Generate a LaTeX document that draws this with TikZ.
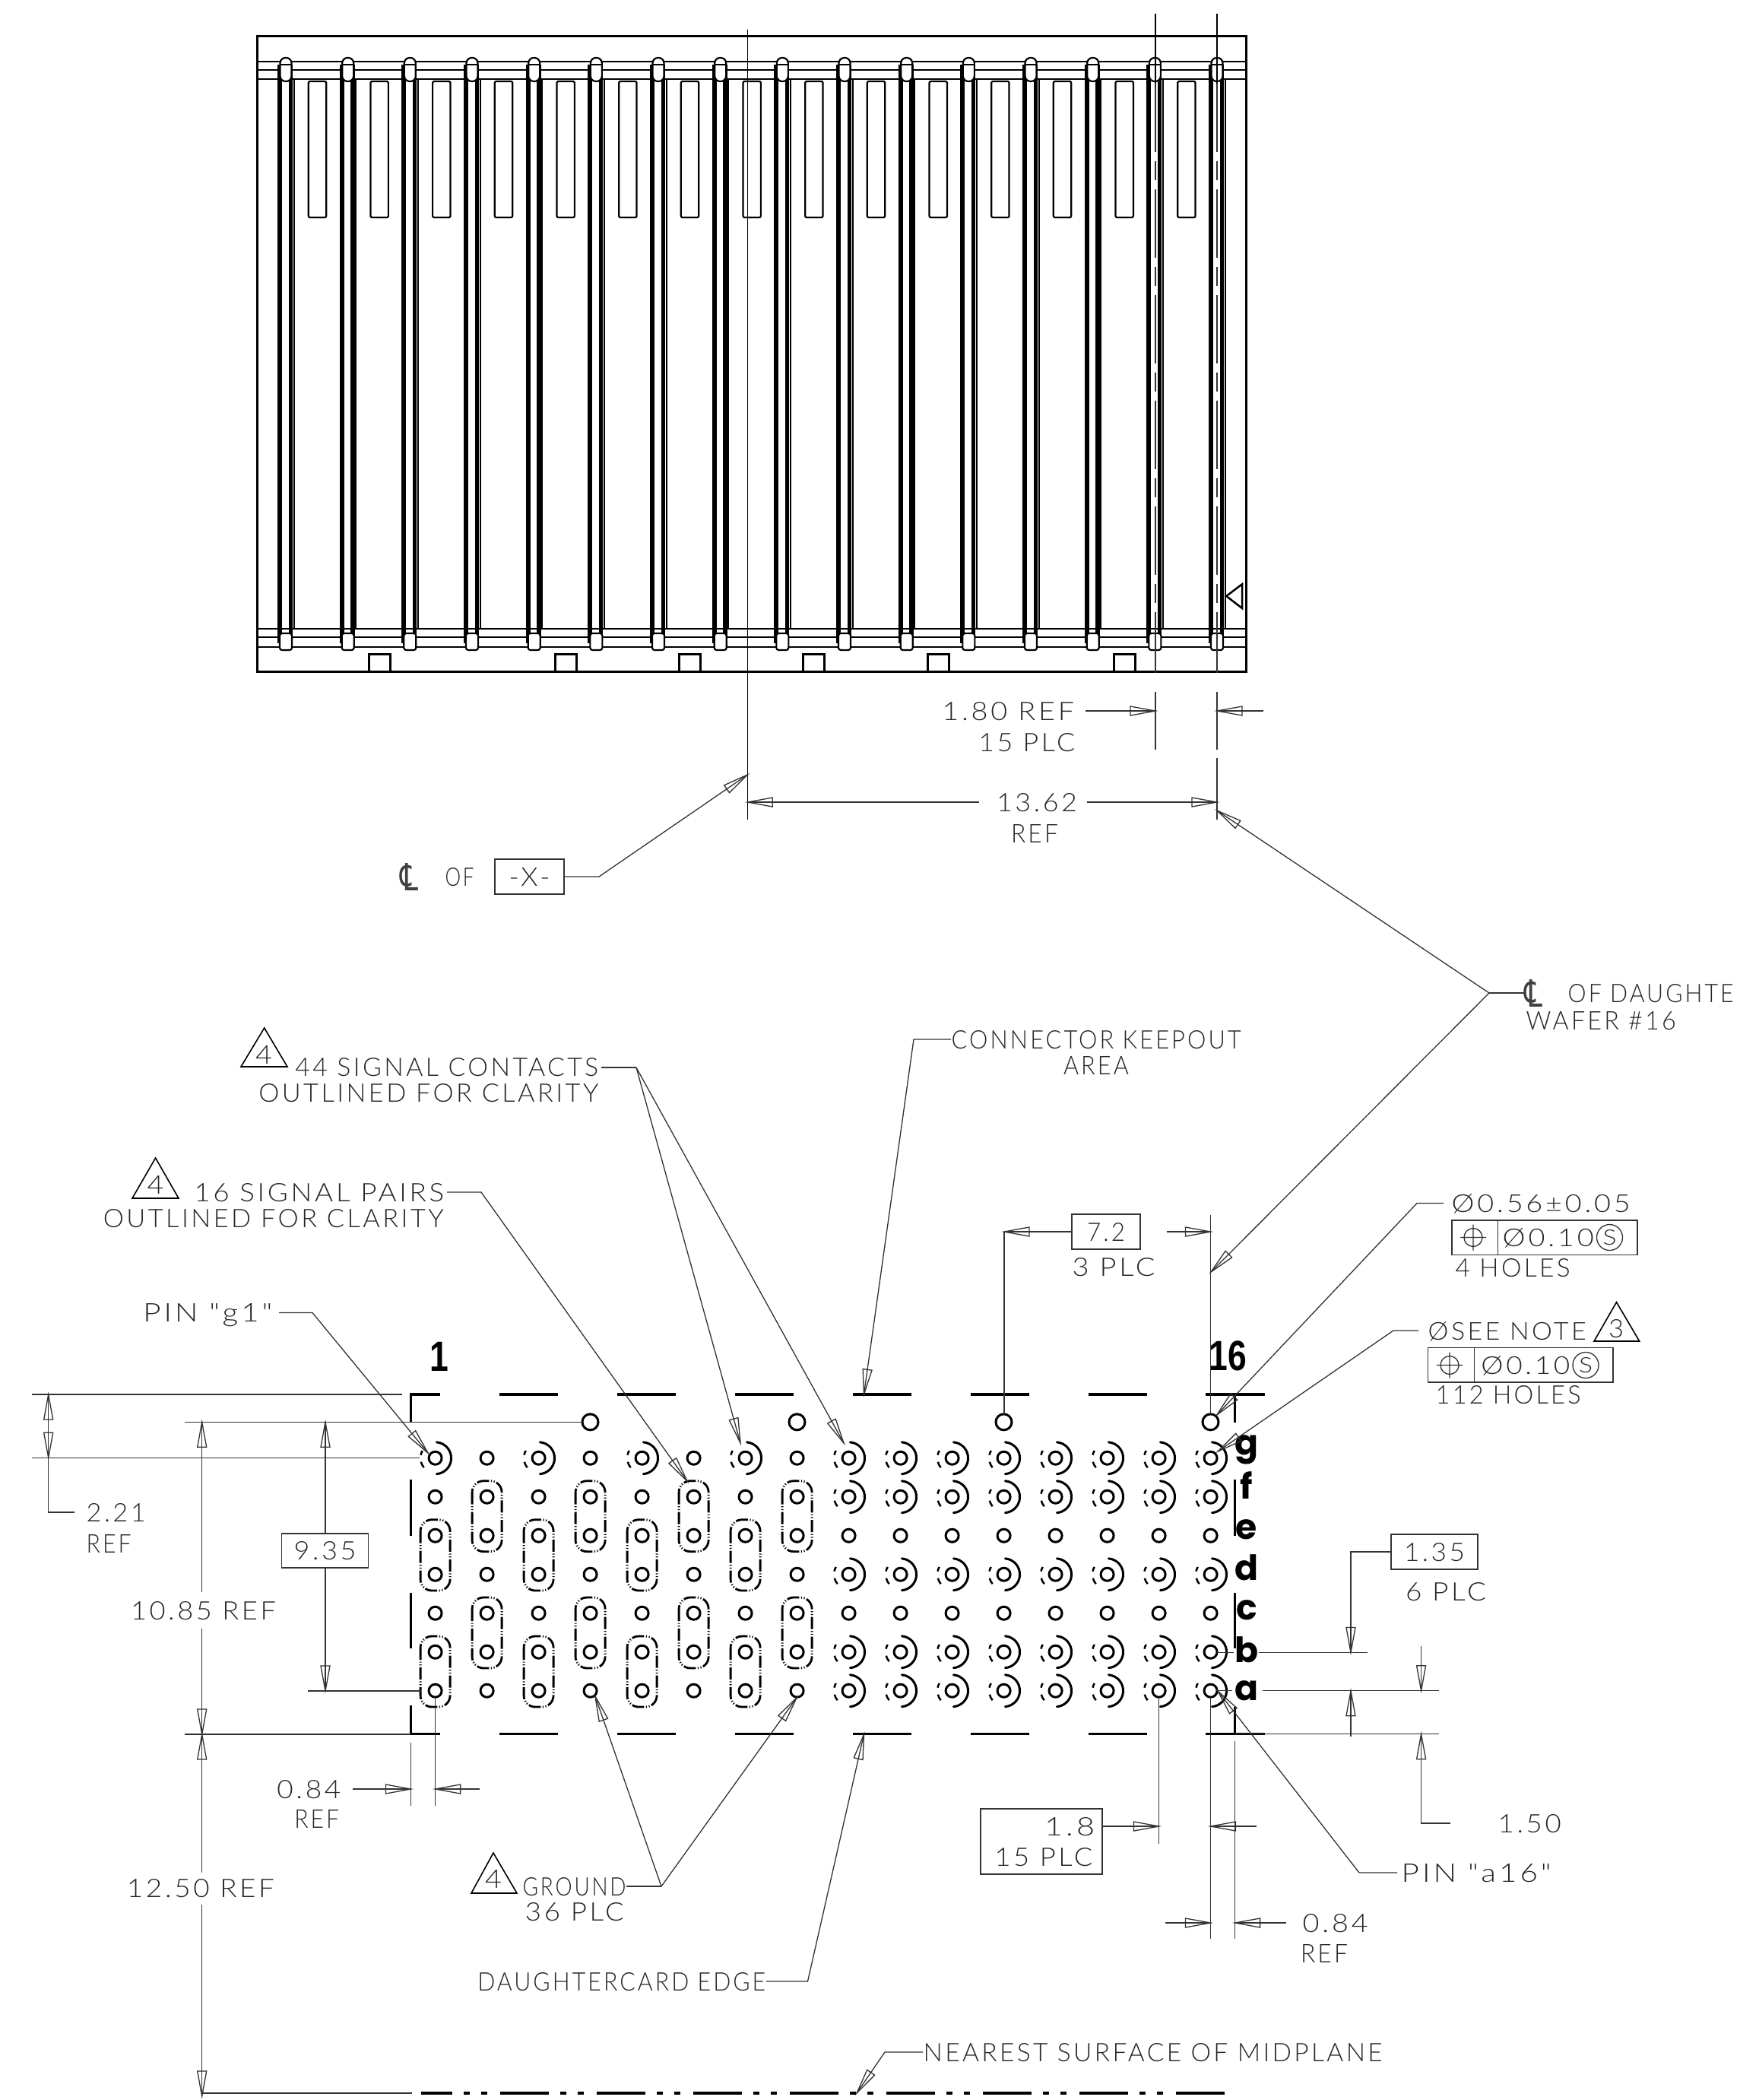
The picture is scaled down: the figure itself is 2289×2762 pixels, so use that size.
\documentclass[tikz,border=0pt]{standalone}
\usepackage{fontspec}
\usepackage{graphicx}
\usetikzlibrary{calc}
\newfontfamily\cad[LetterSpace=10]{Lato Light}
\newfontfamily\sym{DejaVu Sans}
\newfontfamily\rowf{Poppins}
\newfontfamily\numf[FakeStretch=.8]{Liberation Sans}
\newlength\wu \setlength\wu{.01cm}
\newcommand{\W}[2]{\resizebox{#1\wu}{.24cm}{#2}}
\newcommand{\CL}{\resizebox{24\wu}{36\wu}{\color{black!75}\sym ℄}}
\tikzset{
  dim/.style={line width=.013cm,draw=black!80},
  part/.style={line width=.022cm,draw=black},
  keep/.style={line width=.035cm,draw=black},
  holeline/.style={line width=.03cm,draw=black},
  ovalline/.style={line width=.028cm,draw=black,rounded corners=.15cm,dash pattern=on .16cm off .025cm on .012cm off .025cm on .012cm off .025cm},
  cl/.style={dim,dash pattern=on .9cm off .12cm on .25cm off .12cm},
  t/.style={inner sep=0pt,text height=.24cm,text depth=0pt,text=black!85,font=\cad\fontsize{9.5}{10}\selectfont},
  fbox/.style={t,draw=black!80,line width=.013cm,anchor=center},
  sbox/.style={t,text height=.2cm,draw=black!80,line width=.013cm,circle,minimum size=.34cm},
  rowl/.style={inner sep=0pt,font=\rowf\bfseries\fontsize{13}{14}\selectfont},
  coln/.style={inner sep=0pt,font=\numf\bfseries\fontsize{15.8}{16}\selectfont},
}
\newcommand{\ah}[2]{\draw[dim] (#1) -- ($(#1)!.33cm!(#2)!.06cm!90:(#2)$) -- ($(#1)!.33cm!(#2)!.06cm!-90:(#2)$) -- cycle;}
\newcommand{\dl}[2]{\draw[dim] (#1) -- (#2); \ah{#1}{#2}}
\newcommand{\posit}[1]{\draw[dim] (#1) circle[radius=.12cm] ($(#1)+(-17,0)$) -- ($(#1)+(17,0)$) ($(#1)+(0,-17)$) -- ($(#1)+(0,17)$);}
\newcommand{\contact}[2]{%
  \draw[holeline,line cap=round] (#1+1.8,#2-20.9) arc[start angle=85,end angle=-85,radius=.21cm];
  \draw[line width=.025cm] (#1-16.9,#2-9.75) arc[start angle=150,end angle=168,radius=.195cm];
  \draw[line width=.025cm] (#1-18.8,#2+5) arc[start angle=195,end angle=220,radius=.195cm];}
\begin{document}
\begin{tikzpicture}[x=.01cm,y=-.01cm]
\useasboundingbox (0,0) rectangle (2289,2762);
\fill[white] (0,0) rectangle (2289,2762);
% ---------- top view
\draw[line width=.03cm] (338,47) rectangle (1639,883);
\foreach \yy in {81,92,104,827,838,851}{\draw[part] (338,\yy) -- (1639,\yy);}
\foreach \k in {0,...,14}{
  \pgfmathsetmacro\sx{417.5+81.67*\k}
  \draw[part,rounded corners=.02cm] (\sx-11.7,107) rectangle (\sx+11.7,286);
}
\foreach \k in {1,4,6,8,10,13}{
  \pgfmathsetmacro\sx{417.5+81.67*\k}
  \draw[line width=.03cm] (\sx-14,883) -- (\sx-14,860) -- (\sx+14,860) -- (\sx+14,883);
}
\foreach \k in {0,...,15}{
  \pgfmathsetmacro\cx{376+81.67*\k}
  \fill (\cx-11,85) rectangle (\cx-5,846);
  \fill (\cx+3.5,85) rectangle (\cx+9,846);
  \fill (\cx+9.5,104) rectangle (\cx+11.5,827);
  \draw[part,fill=white,rounded corners=.07cm] (\cx-7.5,76) rectangle (\cx+7.5,107);
  \draw[part] (\cx-7.5,85) -- (\cx+7.5,85);
  \draw[part,fill=white,rounded corners=.03cm] (\cx-8,833) rectangle (\cx+8,855);
}
\draw[line width=.025cm] (1613.3,784) -- (1634,768.3) -- (1634,800) -- cycle;
% centre lines
\coordinate (clx) at (983.3,1019);
\coordinate (cla) at (1520,935);
\coordinate (clb) at (1601,935);
\draw[line width=.016cm] (1520,18) -- (1520,110);
\draw[line width=.016cm] (1601,18) -- (1601,110);
\draw[cl] (1520,110) -- (1520,885);
\draw[cl] (1601,110) -- (1601,885);
\draw[line width=.016cm] (983.3,39) -- (983.3,1078);
\draw[dim] (1520,910) -- (1520,986);
\draw[dim] (1601,910) -- (1601,986);
\draw[dim] (1601,997) -- (1601,1078);
% 1.80 REF
\node[t,anchor=east] (t180) at (1414,935) {\W{174}{1.80 REF}};
\node[t,anchor=east] (t15plc) at (1415,976) {\W{127}{15 PLC}};
\coordinate (a180r) at (1662,935);
\draw[dim] (1428,935) -- (cla); \ah{cla}{1428,935}
\dl{clb}{a180r}
% 13.62
\node[t] (t1362) at (1364,1055) {\W{106}{13.62}};
\node[t] (t1362r) at (1361,1096) {\W{62}{REF}};
\coordinate (d1362a) at (983.3,1055);
\coordinate (d1362b) at (1601,1055);
\dl{d1362a}{1288,1055}
\dl{d1362b}{1430,1055}
% CL of -X-
\node[inner sep=0pt] (tclx) at (538,1153) {\CL};
\node[t,anchor=west] (tof) at (585,1153) {\W{38}{OF}};
\node[fbox,minimum width=.91cm,minimum height=.46cm] (bx) at (696.5,1153) {\W{54}{-X-}};
\coordinate (bxe) at (788,1153);
\draw[dim] (bx.east) -- (bxe) -- (clx); \ah{clx}{bxe}
% CL of daughter
\node[inner sep=0pt,anchor=west] (tcld) at (2005,1306) {\CL};
\node[t,anchor=west] (tofd) at (2062,1306) {\W{218}{OF DAUGHTE}};
\node[t,anchor=west] (twaf) at (2007,1342) {\W{197}{WAFER \#16}};
\coordinate (hub) at (1959,1306);
\coordinate (dtipa) at (1601,1066);
\coordinate (dtipb) at (1593,1673);
\draw[dim] (tcld.west) -- (hub);
\dl{dtipa}{hub}
\dl{dtipb}{hub}
% ---------- array outline
\foreach \k in {0,...,6}{
  \pgfmathsetmacro\xa{657+155*\k}
  \pgfmathsetmacro\xb{734+155*\k}
  \draw[keep] (\xa,1834) -- (\xb,1834);
  \draw[keep] (\xa,2280.7) -- (\xb,2280.7);
}
\draw[keep] (579,1834) -- (540.6,1834) -- (540.6,1871);
\draw[keep] (1586,1834) -- (1624.6,1834) -- (1624.6,1871);
\draw[keep] (579,2280.7) -- (540.6,2280.7) -- (540.6,2243);
\draw[keep] (1586,2280.7) -- (1624.6,2280.7) -- (1624.6,2245);
\foreach \xx in {540.6,1624.6}{
  \draw[keep] (\xx,1946) -- (\xx,2020);
  \draw[keep] (\xx,2095) -- (\xx,2168);
}
% holes
\foreach \c in {0,...,15}{
  \foreach \r in {0,...,6}{
    \draw[holeline] (572.6+68*\c,1917.7+51*\r) circle[radius=.085cm];
  }
}
\foreach \c in {3,7,11,15}{
  \draw[holeline] (572.5+68*\c,1870.3) circle[radius=.105cm];
}
\foreach \c in {0,2,4,6}{
  \pgfmathsetmacro\hx{572.6+68*\c}
  \contact{\hx}{1917.7}
  \draw[ovalline] (\hx-19.5,2019.7-21) rectangle (\hx+19.5,2071+21);
  \draw[ovalline] (\hx-19.5,2173-21) rectangle (\hx+19.5,2224+21);
}
\foreach \c in {1,3,5,7}{
  \pgfmathsetmacro\hx{572.6+68*\c}
  \draw[ovalline] (\hx-19.5,1968.7-21) rectangle (\hx+19.5,2019.7+21);
  \draw[ovalline] (\hx-19.5,2122-21) rectangle (\hx+19.5,2173+21);
}
\foreach \c in {8,...,15}{
  \foreach \r in {0,1,3,5,6}{
    \pgfmathsetmacro\hx{572.6+68*\c}
    \pgfmathsetmacro\hy{1917.7+51*\r}
    \contact{\hx}{\hy}
  }
}
% row and column labels
\node[rowl] (rg) at (1640,1907) {g};
\node[rowl] (rf) at (1640,1954) {f};
\node[rowl] (re) at (1640,2012) {e};
\node[rowl] (rd) at (1640,2062) {d};
\node[rowl] (rc) at (1640,2118) {c};
\node[rowl] (rb) at (1640,2170) {b};
\node[rowl] (ra) at (1640,2224) {a};
\node[coln] (c1) at (578,1784) {1};
\node[coln] (c16) at (1615,1783) {16};
% ---------- left dims
\draw[dim] (41.5,1834) -- (529,1834);
\draw[dim] (41.5,1917.3) -- (552,1917.3);
\draw[dim] (243,1870.3) -- (766,1870.3);
\draw[dim] (405,2224) -- (554,2224);
\draw[dim] (243,2281) -- (540,2281);
\coordinate (d221a) at (63.7,1834);
\coordinate (d221b) at (63.7,1917.3);
\coordinate (d221c) at (63.7,1989);
\node[t,anchor=west] (t221) at (113,1989) {\W{78}{2.21}};
\node[t,anchor=west] (t221r) at (113,2030) {\W{59}{REF}};
\draw[dim] (d221a) -- (d221c) -- (97.7,1989);
\ah{d221a}{d221b} \ah{d221b}{d221a}
\node[t] (t1085) at (267.5,2118) {\W{191}{10.85 REF}};
\node[t] (t1250) at (264,2483) {\W{194}{12.50 REF}};
\coordinate (d10a) at (265.7,1870.3);
\coordinate (d10b) at (265.7,2281);
\coordinate (d10c) at (265.7,2757);
\dl{d10a}{265.7,2094}
\dl{d10b}{265.7,2142}
\dl{d10b}{265.7,2463}
\dl{d10c}{265.7,2505}
\node[fbox,minimum width=1.14cm,minimum height=.45cm] (b935) at (427.6,2039.5) {\W{82}{9.35}};
\coordinate (d9a) at (428,1870.3);
\coordinate (d9b) at (428,2224);
\dl{d9a}{b935.north -| d9a}
\dl{d9b}{b935.south -| d9b}
% PIN g1
\node[t,anchor=east] (tg1) at (359,1726.5) {\W{170}{PIN "g1"}};
\coordinate (tipg1) at (563,1911);
\coordinate (elbg1) at (411,1726.5);
\draw[dim] (367,1726.5) -- (elbg1) -- (tipg1); \ah{tipg1}{elbg1}
% 44 signal contacts
\draw[line width=.016cm] (317,1403) -- (347.7,1352) -- (378,1403) -- cycle;
\node[t] (t4a) at (347,1387) {\W{22}{4}};
\node[t,anchor=east] (t44) at (788,1403) {\W{399}{44 SIGNAL CONTACTS}};
\node[t,anchor=east] (tol1) at (788,1437.7) {\W{447}{OUTLINED FOR CLARITY}};
\coordinate (hub44) at (837,1404);
\coordinate (tip44a) at (974,1898);
\coordinate (tip44b) at (1110,1898);
\draw[dim] (791,1404) -- (hub44);
\dl{tip44a}{hub44}
\dl{tip44b}{hub44}
% 16 signal pairs
\draw[line width=.016cm] (174,1576) -- (204.6,1523) -- (235,1576) -- cycle;
\node[t] (t4b) at (204.6,1558) {\W{22}{4}};
\node[t,anchor=east] (t16) at (585,1568) {\W{329}{16 SIGNAL PAIRS}};
\node[t,anchor=east] (tol2) at (584.5,1602) {\W{448}{OUTLINED FOR CLARITY}};
\coordinate (elb16) at (633,1568);
\coordinate (tip16) at (904,1948);
\draw[dim] (588,1568) -- (elb16) -- (tip16); \ah{tip16}{elb16}
% connector keepout
\node[t,anchor=west] (tck) at (1251,1367) {\W{381}{CONNECTOR KEEPOUT}};
\node[t] (tar) at (1442,1401) {\W{86}{AREA}};
\coordinate (elbck) at (1202,1367);
\coordinate (tipck) at (1136.5,1834);
\draw[dim] (tck.west) -- (elbck) -- (tipck); \ah{tipck}{elbck}
% 7.2
\node[fbox,minimum width=.9cm,minimum height=.46cm] (b72) at (1455,1620) {\W{50}{7.2}};
\node[t] (t3plc) at (1465,1666) {\W{109}{3 PLC}};
\coordinate (d72a) at (1321,1620);
\coordinate (d72b) at (1592.6,1620);
\draw[dim] (d72a) -- (1321,1860);
\draw[dim] (1592.6,1598) -- (1592.6,1860);
\dl{d72a}{b72.west}
\dl{d72b}{1535,1620}
% 0.56
\node[t,anchor=west] (t056) at (1909,1582.5) {\W{235}{Ø0.56±0.05}};
\coordinate (elb056) at (1864,1582.5);
\coordinate (tip056) at (1600.7,1861);
\draw[dim] (1899,1582.5) -- (elb056) -- (tip056); \ah{tip056}{elb056}
\draw[dim] (1910,1605) rectangle (2154,1650.5) (1970.6,1605) -- (1970.6,1650.5);
\coordinate (pos1) at (1938,1627.5);
\posit{pos1}
\node[t,anchor=west] (tf1) at (1976,1627.5) {\W{120}{Ø0.10}};
\node[sbox] (s1) at (2117.5,1627.5) {\resizebox{18\wu}{20\wu}{S}};
\node[t,anchor=west] (th4) at (1914,1667) {\W{151}{4 HOLES}};
% see note
\node[t,anchor=west] (tsee) at (1878,1750) {\W{208}{ØSEE NOTE}};
\draw[line width=.016cm] (2097,1764) -- (2126.5,1712.7) -- (2156.7,1764) -- cycle;
\node[t] (t3) at (2126,1747) {\W{20}{3}};
\coordinate (elbsee) at (1833,1750);
\coordinate (tipsee) at (1602,1909);
\draw[dim] (1866,1750) -- (elbsee) -- (tipsee); \ah{tipsee}{elbsee}
\draw[dim] (1878.7,1772.5) rectangle (2122,1818) (1939.5,1772.5) -- (1939.5,1818);
\coordinate (pos2) at (1907,1795.5);
\posit{pos2}
\node[t,anchor=west] (tf2) at (1947.6,1795.5) {\W{117}{Ø0.10}};
\node[sbox] (s2) at (2086,1795.5) {\resizebox{18\wu}{20\wu}{S}};
\node[t,anchor=west] (th112) at (1888,1834.7) {\W{191}{112 HOLES}};
% 1.35
\node[fbox,minimum width=1.14cm,minimum height=.46cm] (b135) at (1887,2041) {\W{80}{1.35}};
\node[t] (t6plc) at (1902,2093) {\W{106}{6 PLC}};
\coordinate (elb135) at (1777,2041);
\coordinate (tip135) at (1777,2173.5);
\coordinate (tip135b) at (1777,2223.7);
\draw[dim] (b135.west) -- (elb135) -- (tip135); \ah{tip135}{elb135}
\dl{tip135b}{1777,2284}
\draw[dim] (1600.7,2173.5) -- (1623,2173.5) (1655.7,2173.5) -- (1799,2173.5);
\draw[dim] (1600,2223.7) -- (1621,2223.7) (1660.5,2223.7) -- (1892.6,2223.7);
\draw[dim] (1624.6,2280.7) -- (1892.6,2280.7);
% 1.50
\coordinate (d150a) at (1869.6,2223.7);
\coordinate (d150b) at (1869.6,2280.7);
\coordinate (d150c) at (1869.6,2398);
\node[t,anchor=west] (t150) at (1970,2398) {\W{83}{1.50}};
\dl{d150a}{1869.6,2165}
\draw[dim] (d150b) -- (d150c) -- (1908,2398);
\ah{d150b}{d150c}
% bottom left 0.84
\draw[dim] (540.5,2292) -- (540.5,2374.5);
\draw[dim] (572.6,2234) -- (572.6,2374.5);
\node[t,anchor=east] (t084) at (449,2353) {\W{84}{0.84}};
\node[t,anchor=east] (t084r) at (447,2392) {\W{59}{REF}};
\coordinate (d84a) at (540.5,2353);
\coordinate (d84b) at (572.6,2353);
\dl{d84a}{463.6,2353}
\dl{d84b}{631,2353}
% ground
\draw[line width=.016cm] (620,2490) -- (649,2437) -- (680,2490) -- cycle;
\node[t] (t4c) at (649,2471) {\W{22}{4}};
\node[t,anchor=west] (tgr) at (687,2481) {\W{136}{GROUND}};
\node[t] (t36) at (756,2514) {\W{130}{36 PLC}};
\coordinate (hubgr) at (870,2481);
\coordinate (tipgra) at (783,2231);
\coordinate (tipgrb) at (1048,2233);
\draw[dim] (tgr.east) -- (hubgr);
\dl{tipgra}{hubgr}
\dl{tipgrb}{hubgr}
% daughtercard edge
\node[t,anchor=east] (tde) at (1008,2606) {\W{379}{DAUGHTERCARD EDGE}};
\coordinate (elbde) at (1062.5,2606);
\coordinate (tipde) at (1136.5,2281);
\draw[dim] (tde.east) -- (elbde) -- (tipde); \ah{tipde}{elbde}
% 1.8
\node[fbox,minimum width=1.6cm,minimum height=.86cm] (b18) at (1370,2422) {};
\node[t] (t18) at (1407,2402) {\W{66}{1.8}};
\node[t] (t18p) at (1373,2442) {\W{129}{15 PLC}};
\draw[dim] (1524.6,2234) -- (1524.6,2425);
\draw[dim] (1592.5,2234) -- (1592.5,2550);
\draw[dim] (1624.6,2290) -- (1624.6,2550);
\coordinate (d18a) at (1524.6,2402);
\coordinate (d18b) at (1592.5,2402);
\dl{d18a}{1450,2402}
\dl{d18b}{1653,2402}
% right 0.84
\coordinate (d84c) at (1592.5,2529);
\coordinate (d84d) at (1624.6,2529);
\dl{d84c}{1533,2529}
\dl{d84d}{1691.5,2529}
\node[t,anchor=west] (t084b) at (1713,2529) {\W{86}{0.84}};
\node[t] (t084br) at (1742,2569) {\W{62}{REF}};
% PIN a16
\node[t,anchor=west] (ta16) at (1843,2463) {\W{197}{PIN "a16"}};
\coordinate (elba) at (1788,2463);
\coordinate (tipa) at (1602,2224);
\draw[dim] (1838,2463) -- (elba) -- (tipa); \ah{tipa}{elba}
% nearest surface
\node[t,anchor=west] (tns) at (1214,2699) {\W{604}{NEAREST SURFACE OF MIDPLANE}};
\coordinate (elbns) at (1164,2699);
\coordinate (tipns) at (1127,2753);
\draw[dim] (tns.west) -- (elbns) -- (tipns); \ah{tipns}{elbns}
\draw[dim] (266,2753) -- (542,2753);
\draw[keep,line width=.045cm] (553.5,2753) -- (595,2753);
\foreach \k in {0,...,7}{
  \pgfmathsetmacro\xa{658+127*\k}
  \pgfmathsetmacro\xb{722+127*\k}
  \pgfmathsetmacro\da{610+127*\k}
  \draw[keep,line width=.045cm] (\xa,2753) -- (\xb,2753);
  \draw[keep,line width=.045cm] (\da,2753) -- (\da+8,2753);
  \draw[keep,line width=.045cm] (\da+23,2753) -- (\da+31,2753);
}
\end{tikzpicture}
\end{document}
